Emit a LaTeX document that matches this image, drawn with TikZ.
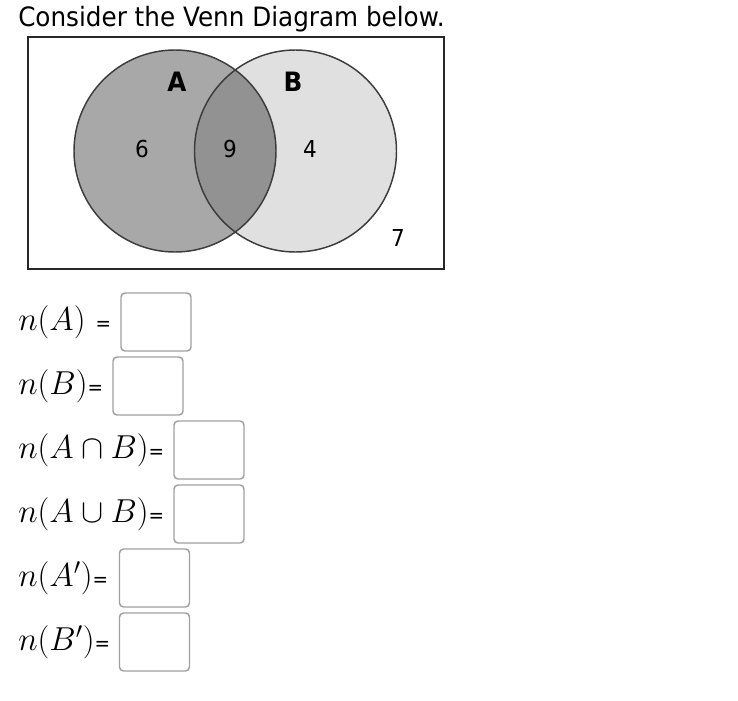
\documentclass[tikz,border=0pt]{standalone}
\usepackage[no-math]{fontspec}
\newfontfamily\uifont[FakeStretch=0.925]{DejaVu Sans}
\usetikzlibrary{positioning}
\definecolor{setA}{HTML}{A8A8A8}
\definecolor{setAB}{HTML}{929292}
\definecolor{setB}{HTML}{E0E0E0}
\definecolor{ringgray}{HTML}{3C3C3C}
\definecolor{boxgray}{HTML}{A0A0A0}

\begin{document}
\begin{tikzpicture}[
        x=0.75pt, y=-0.75pt,
        ring/.style={draw=ringgray, line width=1.1pt},
        count/.style={font=\uifont\fontsize{17.5}{20}\selectfont, inner sep=0pt},
        setname/.style={font=\uifont\bfseries\fontsize{20}{24}\selectfont, inner sep=0pt},
        qlabel/.style={anchor=west, inner sep=0pt, font=\fontsize{25}{30}\selectfont},
        ansbox/.style={rectangle, draw=boxgray, line width=1.1pt, rounded corners=3pt, minimum width=52.5pt, minimum height=43.5pt, inner sep=0pt}
    ]
        \useasboundingbox (0,0) rectangle (738,700);
        \newcommand{\eqs}{{\uifont\fontsize{15}{18}\selectfont =}}

        % title
        \node[anchor=base west, inner sep=0pt, font=\uifont\fontsize{20}{22}\selectfont] (title) at (18,26) {Consider the Venn Diagram below.};

        % venn diagram
        \draw[line width=1.5pt, draw=black!85] (28,37) rectangle (444,269);
        \fill[setB] (295.5,151) circle (101);
        \fill[setA] (175,151) circle (101);
        \begin{scope}
            \clip (175,151) circle (101);
            \fill[setAB] (295.5,151) circle (101);
        \end{scope}
        \draw[ring] (175,151) circle (101);
        \draw[ring] (295.5,151) circle (101);

        \node[setname] (nameA) at (177,82) {A};
        \node[setname] (nameB) at (293,82) {B};
        \node[count] (onlyA) at (142,149) {6};
        \node[count] (both) at (230,149) {9};
        \node[count] (onlyB) at (310,149) {4};
        \node[count] (neither) at (398,238) {7};

        % questions
        \node[qlabel] (qA) at (18,322) {$n(A)$\ \eqs};
        \node[ansbox] (ansA) at (156,322) {};
        \node[qlabel] (qB) at (18,386) {$n(B)$\eqs};
        \node[ansbox] (ansB) at (148,386) {};
        \node[qlabel] (qAnB) at (18,450) {$n(A\cap B)$\eqs};
        \node[ansbox] (ansAnB) at (209,450) {};
        \node[qlabel] (qAuB) at (18,514) {$n(A\cup B)$\eqs};
        \node[ansbox] (ansAuB) at (209,514) {};
        \node[qlabel] (qAc) at (18,578) {$n(A')$\eqs};
        \node[ansbox] (ansAc) at (154.5,578) {};
        \node[qlabel] (qBc) at (18,642) {$n(B')$\eqs};
        \node[ansbox] (ansBc) at (154.5,642) {};
    \end{tikzpicture}
\end{document}
